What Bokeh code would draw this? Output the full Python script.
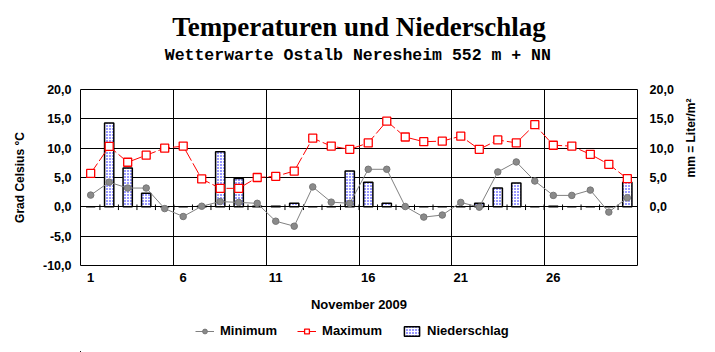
import math
from bokeh.plotting import figure
from bokeh.layouts import column
from bokeh.models import (FixedTicker, LinearAxis, Range1d, Label, Legend, LegendItem, ColumnDataSource)
from bokeh.embed import file_html
from bokeh.resources import INLINE

days = list(range(1, 31))
t_max = [5.7, 10.3, 7.6, 8.8, 10.0, 10.35, 4.75, 3.15, 3.15, 5.0,
         5.2, 6.1, 11.7, 10.35, 9.8, 10.9, 14.6, 11.9, 11.1, 11.2,
         12.05, 9.8, 11.4, 10.9, 14.0, 10.5, 10.35, 8.95, 7.25, 4.8]
t_min = [2.0, 4.2, 3.2, 3.2, -0.3, -1.65, 0.1, 0.9, 0.75, 0.6,
         -2.45, -3.3, 3.4, 0.8, 0.6, 6.4, 6.4, 0.05, -1.75, -1.4,
         0.75, -0.05, 5.95, 7.65, 4.4, 1.95, 1.95, 2.85, -0.9, 1.55]
precip = [0.0, 14.3, 6.6, 2.3, 0.0, 0.0, 0.1, 9.4, 4.85, 0.1,
          0.1, 0.6, 0.0, 0.0, 6.1, 4.2, 0.6, 0.0, 0.0, 0.0,
          0.0, 0.6, 3.2, 4.05, 0.0, 0.1, 0.0, 0.0, 0.0, 4.2]
x_ticks = [1, 6, 11, 16, 21, 26]
x_grid = [5.5, 10.5, 15.5, 20.5, 25.5]
y_ticks_left = [-10, -5, 0, 5, 10, 15, 20]
y_ticks_right = [0, 5, 10, 15, 20]
title_text = "Temperaturen und Niederschlag"
subtitle_text = "Wetterwarte Ostalb Neresheim 552 m + NN"
series_names = ["Minimum", "Maximum", "Niederschlag"]

FONT = "Liberation Sans"
W = 715

# ---------- header (title + subtitle) ----------
head = figure(width=W, height=79, output_backend="svg", toolbar_location=None,
              x_range=Range1d(0, W), y_range=Range1d(79, 0),
              x_axis_type=None, y_axis_type=None, min_border=0,
              background_fill_color="white", border_fill_color="white")
head.outline_line_color = None
head.grid.visible = False
head.add_layout(Label(x=357.5, y=26, text=title_text, text_align="center", text_baseline="middle",
                      text_font="Liberation Serif", text_font_style="bold", text_font_size="27px",
                      text_color="black"))
head.add_layout(Label(x=356, y=55, text=subtitle_text, text_align="center", text_baseline="middle",
                      text_font="Liberation Mono", text_font_style="bold", text_font_size="16.5px",
                      text_color="black"))

# ---------- main chart ----------
p = figure(frame_width=557, frame_height=176, output_backend="svg", toolbar_location=None,
           x_range=Range1d(0.45, 30.55), y_range=Range1d(-10, 20),
           min_border_left=80, min_border_right=78, min_border_top=10, min_border_bottom=50,
           background_fill_color="white", border_fill_color="white")
p.outline_line_color = "black"
p.outline_line_width = 1

p.ygrid.ticker = FixedTicker(ticks=y_ticks_left)
p.xgrid.ticker = FixedTicker(ticks=x_grid)
for g in (p.xgrid, p.ygrid):
    g.grid_line_color = "black"
    g.grid_line_alpha = 1.0
    g.grid_line_width = 1

def fmt(v):
    return ("%.1f" % v).replace(".", ",")

def style_axis(ax, size="12.5px"):
    ax.axis_line_color = None
    ax.major_tick_line_color = None
    ax.minor_tick_line_color = None
    ax.major_label_text_font = FONT
    ax.major_label_text_font_style = "bold"
    ax.major_label_text_font_size = size
    ax.major_label_text_color = "black"
    ax.axis_label_text_font = FONT
    ax.axis_label_text_font_style = "bold"
    ax.axis_label_text_color = "black"

xa = p.xaxis[0]
style_axis(xa, "13px")
xa.ticker = FixedTicker(ticks=x_ticks)
xa.major_label_standoff = 1
xa.axis_label = "November 2009"
xa.axis_label_text_font_size = "13px"
xa.axis_label_standoff = 12

ya = p.yaxis[0]
style_axis(ya)
ya.ticker = FixedTicker(ticks=y_ticks_left)
ya.major_label_overrides = {v: fmt(v) for v in y_ticks_left}
ya.major_label_standoff = 3
ya.axis_label = "Grad Celsius °C"
ya.axis_label_text_font_size = "12px"
ya.axis_label_standoff = 13

ra = LinearAxis(ticker=FixedTicker(ticks=y_ticks_right))
style_axis(ra)
ra.major_label_overrides = {v: fmt(v) for v in y_ticks_right}
ra.major_label_standoff = 6
ra.axis_label = "mm = Liter/m²"
ra.axis_label_text_font_size = "12px"
ra.axis_label_standoff = 14
try:
    ra.axis_label_orientation = math.pi / 2
except Exception:
    pass
p.add_layout(ra, "right")

half = [d + 0.5 for d in days[:-1]]
p.segment(x0=half, x1=half, y0=[0.4] * len(half), y1=[-0.55] * len(half),
          line_color="black", line_width=1)

src = ColumnDataSource(dict(day=days, tmax=t_max, tmin=t_min, rain=precip))

BAR = dict(fill_color="white", line_color="black", line_width=1.5,
           hatch_pattern="dot", hatch_color="#0000ff", hatch_scale=3, hatch_weight=1.2)
MIN_LINE = dict(line_color="#808080", line_width=1)
MIN_MARK = dict(marker="circle", size=6.5, fill_color="#8a8a8a", line_color="#777777", line_width=1)
MAX_LINE = dict(line_color="red", line_width=1, line_dash="12 3")
MAX_MARK = dict(marker="square", size=8, fill_color="white", line_color="red", line_width=1.3)

p.vbar(x="day", top="rain", bottom=0, width=0.5, source=src, **BAR)
p.line("day", "tmin", source=src, **MIN_LINE)
p.scatter("day", "tmin", source=src, **MIN_MARK)
p.line("day", "tmax", source=src, **MAX_LINE)
p.scatter("day", "tmax", source=src, **MAX_MARK)

# ---------- legend strip (renderers use the same data, kept outside the strip's visible range) ----------
leg = figure(width=W, height=37, output_backend="svg", toolbar_location=None,
             x_range=Range1d(1000, 1001), y_range=Range1d(1000, 1001),
             x_axis_type=None, y_axis_type=None, min_border=0,
             background_fill_color="white", border_fill_color="white")
leg.outline_line_color = None
leg.grid.visible = False
r_l1 = leg.line("day", "tmin", source=src, **MIN_LINE)
r_m1 = leg.scatter("day", "tmin", source=src, **MIN_MARK)
r_l2 = leg.line("day", "tmax", source=src, line_color="red", line_width=1)
r_m2 = leg.scatter("day", "tmax", source=src, **MAX_MARK)
r_b = leg.vbar(x="day", top="rain", bottom=0, width=0.5, source=src, **BAR)

legend = Legend(items=[
    LegendItem(label=series_names[0], renderers=[r_l1, r_m1], index=1),
    LegendItem(label=series_names[1], renderers=[r_l2, r_m2], index=1),
    LegendItem(label=series_names[2], renderers=[r_b], index=1),
], orientation="horizontal", location=(115, 14),
    label_text_font=FONT, label_text_font_style="bold", label_text_font_size="13px",
    label_text_color="black",
    glyph_width=19, glyph_height=12, label_standoff=6, spacing=20,
    border_line_color=None, background_fill_alpha=0, padding=2, margin=0)
leg.add_layout(legend, "center")

layout = column(head, p, leg, spacing=0)
open("out.html", "w").write(file_html(layout, INLINE))
